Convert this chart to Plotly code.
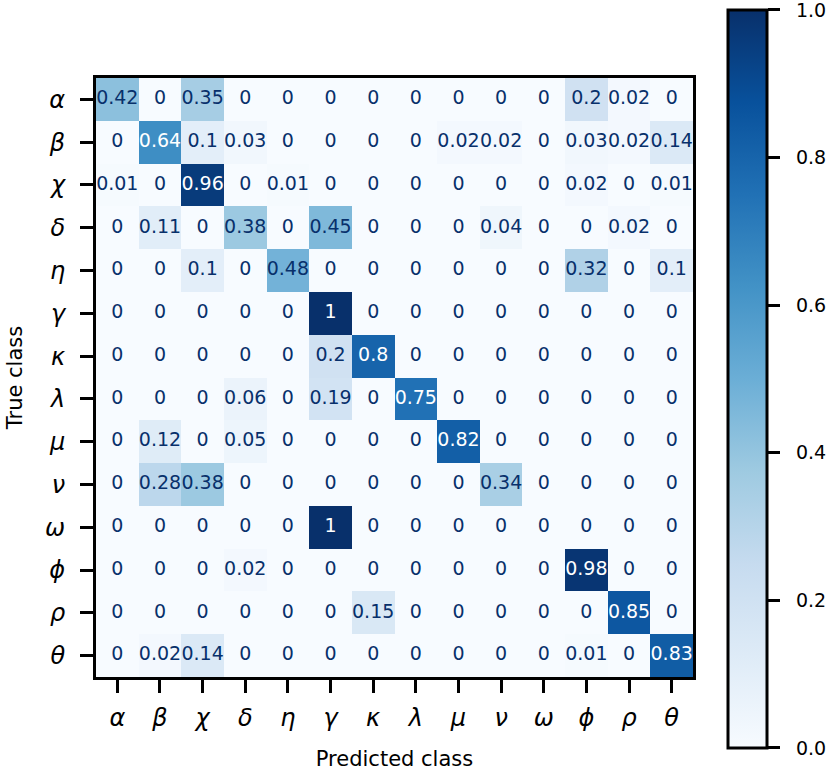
import plotly.graph_objects as go

# class labels (same order on both axes)
classes = ['α', 'β', 'χ', 'δ', 'η', 'γ', 'κ', 'λ', 'μ', 'ν', 'ω', 'ϕ', 'ρ', 'θ']

# normalised confusion matrix, rows = true class, cols = predicted class
cm = [
    [0.42, 0, 0.35, 0, 0, 0, 0, 0, 0, 0, 0, 0.2, 0.02, 0],
    [0, 0.64, 0.1, 0.03, 0, 0, 0, 0, 0.02, 0.02, 0, 0.03, 0.02, 0.14],
    [0.01, 0, 0.96, 0, 0.01, 0, 0, 0, 0, 0, 0, 0.02, 0, 0.01],
    [0, 0.11, 0, 0.38, 0, 0.45, 0, 0, 0, 0.04, 0, 0, 0.02, 0],
    [0, 0, 0.1, 0, 0.48, 0, 0, 0, 0, 0, 0, 0.32, 0, 0.1],
    [0, 0, 0, 0, 0, 1, 0, 0, 0, 0, 0, 0, 0, 0],
    [0, 0, 0, 0, 0, 0.2, 0.8, 0, 0, 0, 0, 0, 0, 0],
    [0, 0, 0, 0.06, 0, 0.19, 0, 0.75, 0, 0, 0, 0, 0, 0],
    [0, 0.12, 0, 0.05, 0, 0, 0, 0, 0.82, 0, 0, 0, 0, 0],
    [0, 0.28, 0.38, 0, 0, 0, 0, 0, 0, 0.34, 0, 0, 0, 0],
    [0, 0, 0, 0, 0, 1, 0, 0, 0, 0, 0, 0, 0, 0],
    [0, 0, 0, 0.02, 0, 0, 0, 0, 0, 0, 0, 0.98, 0, 0],
    [0, 0, 0, 0, 0, 0, 0.15, 0, 0, 0, 0, 0, 0.85, 0],
    [0, 0.02, 0.14, 0, 0, 0, 0, 0, 0, 0, 0, 0.01, 0, 0.83],
]

cbar_ticks = [0.0, 0.2, 0.4, 0.6, 0.8, 1.0]

blues = [[0.0, 'rgb(247,251,255)'], [0.125, 'rgb(222,235,247)'],
         [0.25, 'rgb(198,219,239)'], [0.375, 'rgb(158,202,225)'],
         [0.5, 'rgb(107,174,214)'], [0.625, 'rgb(66,146,198)'],
         [0.75, 'rgb(33,113,181)'], [0.875, 'rgb(8,81,156)'],
         [1.0, 'rgb(8,48,107)']]

n = len(classes)

fig = go.Figure()
fig.add_trace(go.Heatmap(
    z=cm, x=classes, y=classes, zmin=0, zmax=1,
    colorscale=blues, hoverinfo='skip',
    colorbar=dict(
        x=1.0586, xanchor='left', y=0.4975, yanchor='middle',
        thickness=39, len=738, lenmode='pixels',
        outlinewidth=3, outlinecolor='black',
        ticks='outside', ticklen=12, tickwidth=3, tickcolor='black',
        tickvals=cbar_ticks,
        # nbsp padding pushes labels away from the ticks like matplotlib does
        ticktext=['\u00a0\u00a0%.1f' % t for t in cbar_ticks],
        ticklabeloverflow='allow',
        tickfont=dict(size=19, color='black'),
        xpad=0, ypad=0,
    ),
))

# cell labels: white on dark cells, dark blue on light ones
tx, ty, tt, tc = [], [], [], []
for i, row in enumerate(cm):
    for j, v in enumerate(row):
        tx.append(classes[j])
        ty.append(classes[i])
        tt.append('%.2g' % v)
        tc.append('white' if v > 0.5 else 'rgb(8,48,107)')

fig.add_trace(go.Scatter(
    x=tx, y=ty, text=tt, mode='text', hoverinfo='skip', showlegend=False,
    textfont=dict(family='DejaVu Sans', size=19, color=tc),
    cliponaxis=False,
))

axis_common = dict(
    showline=True, mirror=True, linewidth=3, linecolor='black',
    ticks='outside', ticklen=13, tickwidth=3, tickcolor='black',
    showgrid=False, zeroline=False, automargin=False,
    tickfont=dict(family='DejaVu Sans', size=24, color='black', style='italic'),
    title_font=dict(family='DejaVu Sans', size=21, color='black'),
)

fig.update_xaxes(title_text='Predicted class', title_standoff=21,
                 ticklabelstandoff=4, range=[-0.5, n - 0.5], **axis_common)
fig.update_yaxes(title_text='True class', title_standoff=17,
                 ticklabelstandoff=10, range=[n - 0.5, -0.5], **axis_common)

fig.update_layout(
    width=830, height=777,
    margin=dict(l=96, r=137, t=78, b=100, autoexpand=False),
    plot_bgcolor='white', paper_bgcolor='white',
    font=dict(family='DejaVu Sans', color='black'),
    showlegend=False,
)

fig.write_html('out.html', config={'displayModeBar': False},
               post_script="document.body.style.margin='0';")
